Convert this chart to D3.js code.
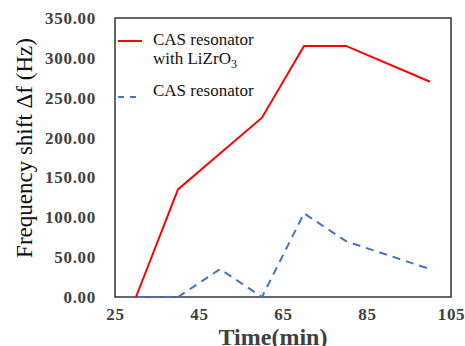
<!DOCTYPE html>
<html>
<head>
<meta charset="utf-8">
<script src="https://cdn.jsdelivr.net/npm/d3@7"></script>
<style>
  body { margin: 0; background: #fff; }
  svg { display: block; }
</style>
</head>
<body>
<div id="chart"></div>
<script>
// Data
let timeMin = [30, 40, 50, 60, 70, 80, 100];
let withLiZrO3 = [0, 135, 180, 225, 315, 315, 270];
let casOnly = [0, 0, 35, 0, 105, 70, 35];
let xTicks = [25, 45, 65, 85, 105];
let yTicks = [0, 50, 100, 150, 200, 250, 300, 350];

let width = 465;
let height = 346;
let margin = { top: 18, right: 14, bottom: 49, left: 115 };

let svg = d3.select("#chart").append("svg")
    .attr("width", width)
    .attr("height", height);

let x = d3.scaleLinear().domain([25, 105]).range([margin.left, width - margin.right]);
let y = d3.scaleLinear().domain([0, 350]).range([height - margin.bottom, margin.top]);

let serif = "'Liberation Serif', 'Times New Roman', serif";

// y axis labels
svg.append("g")
    .attr("transform", `translate(${margin.left},0)`)
    .call(d3.axisLeft(y).tickValues(yTicks).tickSize(0).tickPadding(19).tickFormat(d3.format(".2f")))
    .attr("font-family", serif)
    .attr("font-size", 17)
    .attr("font-weight", "bold")
    .attr("letter-spacing", 0.7)
    .call(g => g.select(".domain").remove())
    .selectAll("text")
    .attr("fill", "#404040");

// x axis labels
svg.append("g")
    .attr("transform", `translate(0,${height - margin.bottom})`)
    .call(d3.axisBottom(x).tickValues(xTicks).tickSize(0).tickPadding(11))
    .attr("font-family", serif)
    .attr("font-size", 17)
    .attr("font-weight", "bold")
    .attr("letter-spacing", 0.7)
    .call(g => g.select(".domain").remove())
    .selectAll("text")
    .attr("fill", "#404040");

// plot frame
svg.append("rect")
    .attr("x", margin.left)
    .attr("y", margin.top)
    .attr("width", width - margin.left - margin.right)
    .attr("height", height - margin.top - margin.bottom)
    .attr("fill", "none")
    .attr("stroke", "#333")
    .attr("stroke-width", 1.5);

let line = d3.line().x(d => x(d[0])).y(d => y(d[1]));

svg.append("path")
    .datum(d3.zip(timeMin, casOnly))
    .attr("d", line)
    .attr("fill", "none")
    .attr("stroke", "#4472c4")
    .attr("stroke-width", 2)
    .attr("stroke-dasharray", "8,6");

svg.append("path")
    .datum(d3.zip(timeMin, withLiZrO3))
    .attr("d", line)
    .attr("fill", "none")
    .attr("stroke", "#ff0000")
    .attr("stroke-width", 2);

// legend
let legend = svg.append("g").attr("font-family", serif).attr("font-size", 17).attr("fill", "#111");
legend.append("line").attr("x1", 118).attr("x2", 142).attr("y1", 41).attr("y2", 41)
    .attr("stroke", "#ff0000").attr("stroke-width", 2);
legend.append("text").attr("x", 153).attr("y", 45).text("CAS resonator");
let t2 = legend.append("text").attr("x", 153).attr("y", 64);
t2.append("tspan").text("with LiZrO");
t2.append("tspan").attr("font-size", 12).attr("dy", 4).text("3");
legend.append("line").attr("x1", 118).attr("x2", 142).attr("y1", 97).attr("y2", 97)
    .attr("stroke", "#4472c4").attr("stroke-width", 2).attr("stroke-dasharray", "6,6");
legend.append("text").attr("x", 153).attr("y", 96).text("CAS resonator");

// axis titles
svg.append("text")
    .attr("x", 273)
    .attr("y", 345)
    .attr("text-anchor", "middle")
    .attr("font-family", serif)
    .attr("font-size", 24)
    .attr("font-weight", "bold")
    .attr("fill", "#404040")
    .text("Time(min)");

svg.append("text")
    .attr("transform", `translate(32,148) rotate(-90)`)
    .attr("text-anchor", "middle")
    .attr("font-family", serif)
    .attr("font-size", 23)
    .attr("fill", "#111")
    .text("Frequency shift Δf (Hz)");
</script>
</body>
</html>
